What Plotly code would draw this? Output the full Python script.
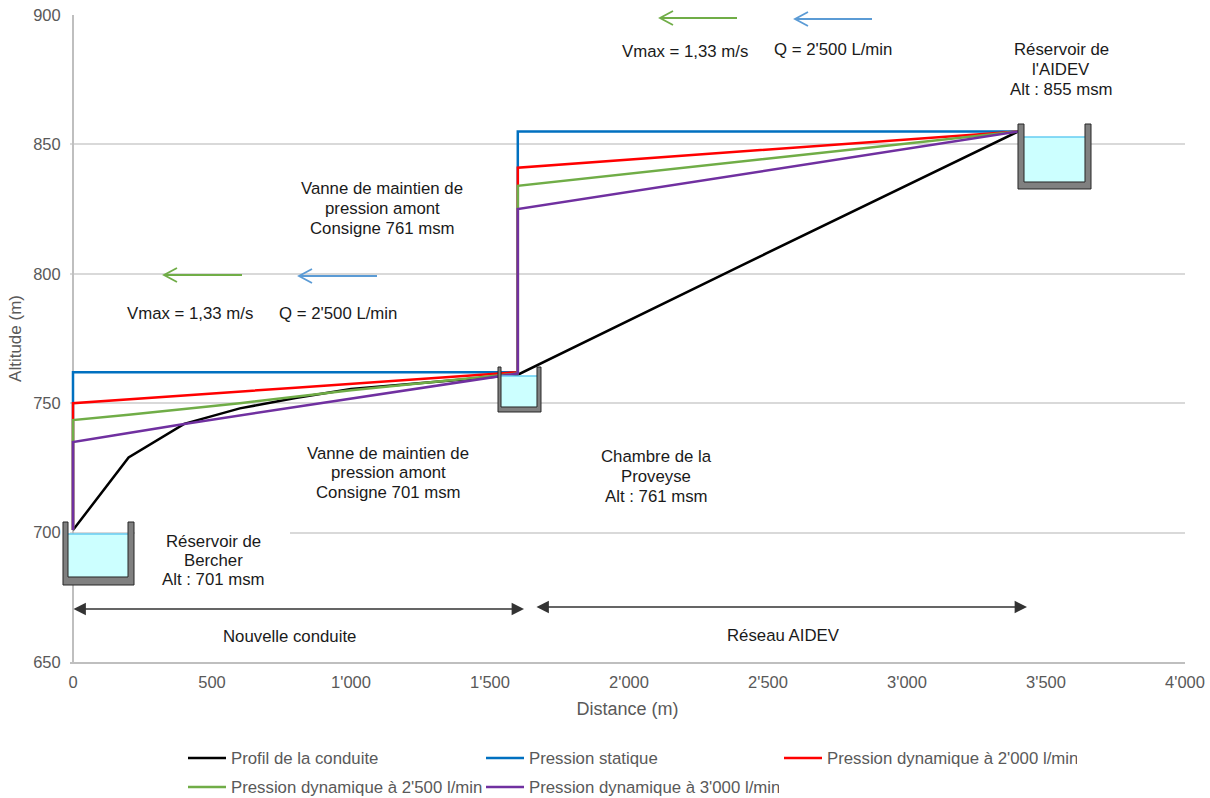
import plotly.graph_objects as go

# ---- data ----
profil_x = [0, 200, 400, 600, 800, 1000, 1600, 2400, 3400]
profil_y = [701, 729, 742, 748, 752, 755.5, 761, 803, 855]
statique_x = [0, 0, 1600, 1600, 3400]
statique_y = [701, 762, 762, 855, 855]
dyn2000_x = [0, 0, 800, 1600, 1600, 3400]
dyn2000_y = [701, 750, 756, 762, 841, 855]
dyn2500_x = [0, 0, 200, 600, 1000, 1600, 1600, 3400]
dyn2500_y = [701, 743.5, 745.5, 750, 755, 761.5, 834, 855]
dyn3000_x = [0, 0, 200, 400, 1600, 1600, 3400]
dyn3000_y = [701, 735, 738.5, 742, 761.5, 825, 855]
noms = ["Profil de la conduite", "Pression statique", "Pression dynamique à 2'000 l/min",
        "Pression dynamique à 2'500 l/min", "Pression dynamique à 3'000 l/min"]
couleurs = ["#000000", "#0070c0", "#ff0000", "#70ad47", "#7030a0"]
x_ticks = [0, 500, 1000, 1500, 2000, 2500, 3000, 3500, 4000]
y_ticks = [650, 700, 750, 800, 850, 900]

# ---- page geometry ----
# the plot area starts 3 px left of x=0 so the vertical segments at x=0 are not clipped
W, H = 1210, 798
L, R, T, B = 70, 1185, 15, 662
X_MIN = -10.8
FONT = "Liberation Sans"
px = lambda v: (v - L) / (R - L)
py = lambda v: (B - v) / (B - T)

fig = go.Figure()
series = [(profil_x, profil_y), (statique_x, statique_y), (dyn2000_x, dyn2000_y),
          (dyn2500_x, dyn2500_y), (dyn3000_x, dyn3000_y)]
for i, (sx, sy) in enumerate(series):
    fig.add_trace(go.Scatter(x=sx, y=sy, mode="lines", name=noms[i],
                             line=dict(color=couleurs[i], width=2.5),
                             legend="legend" if i < 3 else "legend2"))

shapes = []
# white strip hiding the gridlines left of x=0
shapes.append(dict(type="rect", xref="paper", yref="paper", x0=px(L), x1=px(72.2),
                   y0=py(660.5), y1=py(T - 1), fillcolor="white", line_width=0, layer="between"))
# white box masking the gridline behind the Bercher label
shapes.append(dict(type="rect", xref="paper", yref="paper", x0=px(135), x1=px(290),
                   y0=py(545), y1=py(522), fillcolor="white", line_width=0))

def reservoir(ox0, ox1, ix0, ix1, top, bot, ibot, water):
    shapes.append(dict(type="rect", xref="paper", yref="paper", x0=px(ix0), x1=px(ix1),
                       y0=py(ibot), y1=py(water), fillcolor="#ccffff", line_width=0))
    shapes.append(dict(type="line", xref="paper", yref="paper", x0=px(ix0), x1=px(ix1),
                       y0=py(water), y1=py(water), line=dict(color="#66ccf2", width=1.5)))
    pts = [(ox0, top), (ox0, bot), (ox1, bot), (ox1, top), (ix1, top), (ix1, ibot),
           (ix0, ibot), (ix0, top)]
    path = "M" + " L".join(f"{px(a):.5f},{py(b):.5f}" for a, b in pts) + " Z"
    shapes.append(dict(type="path", xref="paper", yref="paper", path=path,
                       fillcolor="#808080", line=dict(color="#262626", width=1)))

reservoir(63, 134, 68, 128, 522, 585, 577, 534)
reservoir(498, 541, 501, 537, 367, 412, 407, 376)
reservoir(1018, 1091, 1024, 1085, 124, 189, 182, 137)

anns = []
def label(x, ys, lines):
    for y, text in zip(ys, lines):
        anns.append(dict(xref="paper", yref="paper", x=px(x), y=py(y), text=text, showarrow=False,
                         xanchor="center", yanchor="middle", align="center",
                         font=dict(family=FONT, size=16.8, color="#1a1a1a")))

label(213, [541, 560, 579], ["Réservoir de", "Bercher", "Alt : 701 msm"])
label(1061, [50, 69, 89], ["Réservoir de", "l'AIDEV", "Alt : 855 msm"])
label(382, [189, 208, 228], ["Vanne de maintien de", "pression amont", "Consigne 761 msm"])
label(388, [453, 472, 492], ["Vanne de maintien de", "pression amont", "Consigne 701 msm"])
label(656, [457, 476, 496], ["Chambre de la", "Proveyse", "Alt : 761 msm"])
label(289, [636], ["Nouvelle conduite"])
label(783, [635], ["Réseau AIDEV"])
label(190, [313], ["Vmax = 1,33 m/s"])
label(338, [313], ["Q = 2'500 L/min"])
label(685, [51], ["Vmax = 1,33 m/s"])
label(833, [49], ["Q = 2'500 L/min"])

def open_arrow(x0, x1, y, color):
    pairs = [(x0, y), (x1, y), (x1 + 13, y - 7), (x1, y), (x1 + 13, y + 7)]
    path = "M" + " L".join(f"{px(a):.5f},{py(b):.5f}" for a, b in pairs)
    shapes.append(dict(type="path", xref="paper", yref="paper", path=path,
                       line=dict(color=color, width=1.8)))

open_arrow(242, 164, 275, "#70ad47")
open_arrow(377, 299, 276, "#5b9bd5")
open_arrow(737, 660, 18, "#70ad47")
open_arrow(872, 795, 19, "#5b9bd5")

def arrow(x0, x1, y):
    anns.append(dict(xref="paper", yref="paper", axref="pixel", ayref="pixel",
                     x=px(x1), y=py(y), ax=x0 - x1, ay=0, text="", showarrow=True,
                     arrowcolor="#333333", arrowwidth=1.3, arrowhead=2, arrowside="end+start",
                     arrowsize=1.9, startarrowhead=2, startarrowsize=1.9))

arrow(72, 524, 609)
arrow(535, 1027, 607)

legend_common = dict(orientation="h", xanchor="left", yanchor="middle", entrywidth=245,
                     entrywidthmode="pixels", itemwidth=38, itemclick=False, itemdoubleclick=False,
                     bgcolor="rgba(0,0,0,0)", font=dict(family=FONT, size=16.8, color="#595959"))

fig.update_layout(
    width=W, height=H, autosize=False,
    margin=dict(l=L, r=W - R, t=T, b=H - B, pad=0, autoexpand=False),
    paper_bgcolor="white", plot_bgcolor="white",
    separators=".'",
    font=dict(family=FONT, size=16, color="#595959"),
    showlegend=True,
    legend=dict(x=px(183), y=py(758), **legend_common),
    legend2=dict(x=px(183), y=py(787), **legend_common),
    shapes=shapes, annotations=anns,
    xaxis=dict(range=[X_MIN, 4000], tickvals=x_ticks, tickformat=",d", showgrid=False,
               zeroline=True, zerolinecolor="#bfbfbf", zerolinewidth=1.5,
               showline=True, linecolor="#bfbfbf", linewidth=1.5, layer="below traces",
               ticks="outside", ticklen=4, tickcolor="rgba(0,0,0,0)",
               tickfont=dict(family=FONT, size=16.5, color="#595959"),
               title=dict(text="Distance (m)", font=dict(family=FONT, size=18, color="#595959"), standoff=13)),
    yaxis=dict(range=[650, 900], tickvals=y_ticks, tickformat="d", showgrid=True, gridcolor="#d9d9d9",
               gridwidth=1.5, zeroline=False, showline=False,
               layer="below traces",
               ticks="outside", ticklen=5, tickcolor="rgba(0,0,0,0)",
               tickfont=dict(family=FONT, size=16.5, color="#595959"),
               title=dict(text="Altitude (m)", font=dict(family=FONT, size=17, color="#595959"), standoff=7)),
)
fig.write_html("out.html", post_script="document.body.style.margin='0';",
               config={"displayModeBar": False})
